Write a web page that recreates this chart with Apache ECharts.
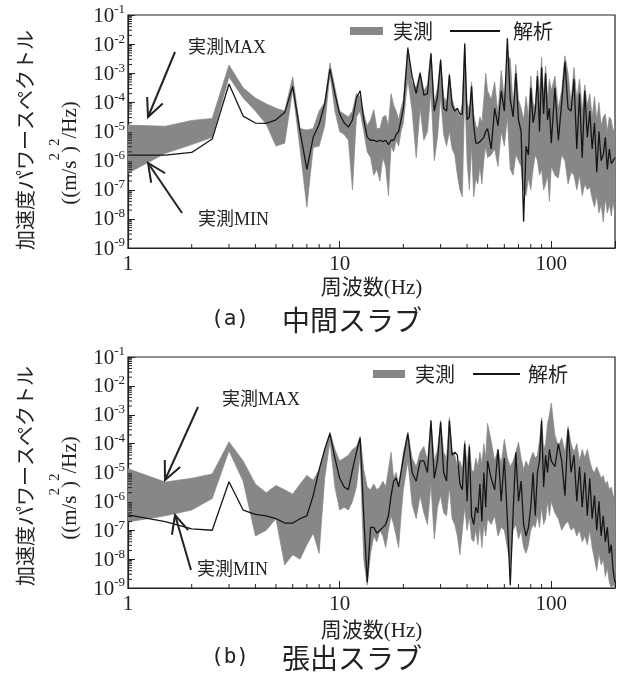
<!DOCTYPE html>
<html><head><meta charset="utf-8">
<script src="https://cdn.jsdelivr.net/npm/echarts@6/dist/echarts.min.js"></script>
<style>html,body{margin:0;padding:0;background:#fff}#c{width:624px;height:675px}</style>
</head><body><div id="c"></div>
<script>
// Frequencies (Hz), shared by both panels
const freqs = [
  1, 1.5, 2, 2.5, 3, 3.5, 4, 4.5, 5, 5.5, 6, 6.5, 7, 7.5, 8, 8.5, 9, 9.5, 10,
  10.5, 11, 11.5, 12, 12.5, 13, 13.5, 14, 14.5, 15, 15.5, 16, 16.5, 17, 17.5, 18, 18.5, 19, 19.5, 20,
  21, 22, 23, 24, 25, 26, 27, 28, 29, 30, 31, 32, 33, 34, 35, 36, 37, 38, 39, 40, 41, 42, 43, 44, 45, 46, 47, 48, 49, 50,
  52, 54, 56, 58, 60, 62, 64, 66, 68, 70, 72, 74, 76, 78, 80, 82, 84, 86, 88, 90, 92, 94, 96, 98, 100,
  104, 108, 112, 116, 120, 124, 128, 132, 136, 140, 144, 148, 152, 156, 160, 164, 168, 172, 176, 180, 184, 188, 192, 196, 200
];

// Values are read as log10 of PSD ((m/s^2)^2/Hz)
// (a) 中間スラブ : measured MAX / MIN, analysis
const measMaxExpA = [
  -4.78, -4.82, -4.62, -4.55, -2.72, -3.5, -3.85, -4.05, -4.2, -4.3, -3.13, -4.9, -4.95, -4.9, -4.3, -4.0, -2.65, -3.5, -4.3,
  -4.4, -4.5, -4.3, -3.7, -3.8, -4.4, -4.8, -4.6, -4.25, -4.9, -4.9, -4.5, -4.45, -4.8, -3.7, -4.1, -4.3, -4.6, -4.2, -3.9,
  -2.1, -3.3, -3.5, -2.95, -3.6, -3.4, -2.3, -4.0, -3.5, -2.5,
  -3.8, -4.0, -3.0, -3.9, -4.2, -4.3, -4.5, -4.0, -1.95, -4.0,
  -4.3, -3.3, -4.4, -4.8, -4.9, -4.5, -4.7, -3.9, -3.0, -3.6,
  -3.9, -3.3, -4.4, -2.9, -3.9, -2.4, -2.5, -4.2, -2.7, -3.9, -4.2, -4.6, -3.8, -4.5, -3.1, -4.0, -4.2, -2.9, -3.7, -2.45, -3.8, -2.75, -3.9, -3.2, -3.6,
  -3.1, -4.2, -3.6, -2.4, -3.0, -4.0, -2.8, -3.9, -3.2, -4.3, -3.4, -4.1, -3.7, -4.5, -3.8, -4.6, -4.0, -4.8, -4.5, -4.4, -5.0, -4.5, -4.6, -5.0, -4.8
];
const measMinExpA = [
  -6.43, -5.75, -5.45, -5.2, -3.13, -3.85, -4.3, -4.75, -5.5, -5.4, -3.57, -5.6, -7.6, -5.55, -5.5, -4.8, -3.0, -4.3, -5.0,
  -5.1, -5.3, -7.0, -4.5, -4.3, -5.0, -5.7, -5.9, -6.5, -6.3, -6.7, -5.9, -6.2, -7.2, -5.5, -5.7, -5.3, -5.5, -5.0, -4.7,
  -3.2, -4.3, -5.9, -4.2, -5.3, -5.0, -3.6, -6.0, -5.2, -3.8,
  -5.1, -5.5, -5.0, -5.6, -5.8, -6.5, -7.0, -7.24, -3.5, -6.0,
  -7.0, -5.5, -7.24, -6.6, -6.8, -6.2, -6.8, -6.0, -5.5, -5.9,
  -5.8, -5.6, -6.2, -5.0, -5.5, -4.5, -6.3, -6.5, -5.8, -6.0, -6.2, -7.0, -7.2, -6.6, -7.0, -6.3, -5.8, -6.0, -6.5, -6.3, -7.0, -6.8, -6.5, -7.4, -6.2,
  -6.5, -6.6, -5.8, -6.0, -6.8, -6.4, -6.5, -7.0, -6.5, -7.2, -6.8, -7.0, -6.9, -7.3, -7.6, -7.2, -7.8, -7.5, -8.1, -7.3, -7.8, -7.5, -7.9, -7.4, -7.9
];
const analysisExpA = [
  -5.81, -5.81, -5.72, -5.26, -3.37, -4.47, -4.71, -4.72, -4.6, -4.35, -3.45, -5.0, -6.3, -5.2, -4.75, -4.05, -2.86, -3.7, -4.4,
  -4.7, -4.85, -4.6, -3.85, -3.6, -4.6, -5.2, -5.3, -5.3, -5.35, -5.3, -5.35, -5.3, -5.45, -5.3, -5.3, -5.1, -5.0, -4.6, -4.2,
  -2.15, -3.1, -3.7, -3.0, -3.75, -3.7, -2.32, -4.3, -3.8, -2.55,
  -4.2, -4.3, -3.06, -4.1, -4.3, -4.2, -4.4, -4.4, -2.0, -4.6,
  -4.5, -3.45, -4.8, -5.4, -5.4, -5.35, -5.4, -5.2, -5.0, -4.9,
  -5.6, -4.2, -4.8, -3.6, -4.3, -1.8, -3.9, -4.5, -3.0, -4.6, -5.0, -8.1, -5.5, -5.8, -3.5, -4.7, -4.3, -3.1, -5.0, -2.8, -4.4, -3.0, -4.6, -4.2, -5.4,
  -3.5, -5.3, -4.0, -2.6, -4.2, -4.3, -3.2, -5.6, -3.7, -5.9, -3.6, -5.2, -4.3, -5.6, -4.7, -6.4, -5.0, -6.0, -5.8, -5.2, -6.3, -5.6, -6.1, -6.0, -5.9
];

// (b) 張出スラブ
const measMaxExpB = [
  -4.87, -5.33, -5.2, -5.05, -3.94, -4.6, -5.4, -5.7, -5.45, -5.6, -5.75, -5.4, -5.1, -5.27, -4.9, -4.2, -3.6, -4.2, -4.6,
  -4.5, -4.4, -4.2, -4.1, -3.75, -4.9, -5.5, -5.6, -5.4, -5.6, -5.5, -5.3, -5.5, -4.9, -4.3, -5.2, -5.0, -5.4, -4.9, -4.3,
  -3.6, -4.5, -4.8, -4.3, -4.1, -4.6, -3.2, -4.6, -4.2, -3.2,
  -4.3, -4.5, -3.1, -4.3, -4.4, -4.8, -4.6, -4.9, -3.9, -4.7,
  -4.0, -4.9, -5.0, -4.5, -4.8, -4.3, -4.7, -4.0, -4.5, -3.3,
  -3.9, -4.6, -4.2, -4.7, -3.85, -4.5, -4.8, -4.6, -4.3, -3.95, -4.5, -4.9, -4.6, -4.8, -4.5, -4.3, -4.5, -4.4, -3.9, -3.1, -4.2, -4.0, -3.3, -3.0, -2.6,
  -3.7, -4.1, -3.8, -4.3, -3.4, -4.0, -4.3, -4.0, -4.6, -4.2, -4.5, -4.2, -4.6, -4.9, -5.0, -4.8, -5.0, -5.2, -5.1, -5.4, -5.3, -5.6, -5.5, -5.8, -6.0
];
const measMinExpB = [
  -6.71, -6.5, -6.3, -5.9, -4.25, -5.3, -7.2, -7.0, -6.6, -8.2, -7.85, -8.0, -7.5, -7.1, -7.8, -5.2, -3.9, -5.5, -6.3,
  -6.2, -6.3, -6.0, -5.5, -4.4, -8.0, -8.9, -7.8, -7.2, -7.4, -7.0, -7.2, -7.6, -7.0, -6.5, -6.8, -7.2, -7.6, -6.5, -5.6,
  -4.6, -6.1, -6.6, -5.8, -6.4, -6.8, -5.4, -7.3, -6.2, -5.8,
  -6.4, -6.5, -5.5, -6.6, -6.8, -7.2, -7.85, -7.0, -6.2, -7.0,
  -6.5, -7.3, -7.4, -7.0, -7.5, -6.8, -7.6, -6.8, -7.2, -6.6,
  -6.8, -6.5, -7.2, -6.9, -7.0, -7.6, -8.2, -7.0, -6.8, -7.3, -7.0, -7.6, -7.8, -7.5, -7.0, -6.8, -6.9, -6.5, -6.9, -6.2, -6.8, -6.6, -6.0, -6.5, -6.0,
  -6.4, -6.6, -7.0, -6.8, -6.7, -7.0, -6.9, -7.2, -7.0, -7.4, -7.2, -7.5, -7.0, -7.6, -8.0, -8.4, -7.8, -8.2, -8.0, -8.6, -8.3, -8.8, -9.0, -8.9, -9.0
];
const analysisExpB = [
  -6.47, -6.7, -6.95, -7.0, -5.32, -6.3, -6.45, -6.5, -6.6, -6.75, -6.75, -6.6, -6.5, -5.8, -4.9, -4.2, -3.65, -4.5, -5.2,
  -5.5, -5.6, -4.9, -4.3, -3.8, -6.5, -8.8, -6.9, -6.9, -7.1, -7.0, -6.9, -6.8, -6.5, -5.8, -5.3, -5.2, -5.5, -5.0, -4.5,
  -3.65, -5.0, -5.3, -4.6, -4.6, -5.0, -3.2, -5.2, -4.6, -3.25,
  -5.0, -5.3, -3.2, -4.4, -4.3, -4.4, -5.4, -5.6, -4.0, -6.0,
  -4.1, -6.5, -6.8, -6.2, -6.4, -5.4, -6.7, -5.0, -6.2, -4.6,
  -5.2, -5.6, -4.2, -6.0, -4.5, -6.6, -8.9, -6.4, -4.3, -6.0, -5.3, -6.8, -7.2, -6.9, -6.2, -5.0, -6.5, -5.0, -4.6, -3.2, -5.5, -4.4, -5.0, -4.2, -4.6,
  -4.8, -4.0, -4.6, -5.8, -3.5, -5.0, -4.4, -6.0, -4.8, -6.2, -5.0, -6.5, -5.2, -6.6, -5.8, -7.0, -6.0, -7.2, -6.5, -7.4, -6.9, -7.8, -7.5, -8.4, -8.8
];

// Axis tick labels / ticks
const xTickLabels = [1, 10, 100];
const xMinorTicks = [2, 3, 4, 5, 6, 7, 8, 9, 20, 30, 40, 50, 60, 70, 80, 90];
const yDecades = [-9, -8, -7, -6, -5, -4, -3, -2, -1];
const yMinorTicks = [];
for (const d of yDecades.slice(0, -1)) for (let k = 2; k <= 9; k++) yMinorTicks.push(k * Math.pow(10, d));

const SERIF = "'Liberation Serif', 'Noto Sans CJK JP', serif";
const JP = "'Noto Sans CJK JP', sans-serif";
const INK = '#222';
const BAND = '#878787';
const LINE = '#161616';

const pow10 = a => a.map(e => Math.pow(10, e));

function bandSeries(idx, maxE, minE) {
  const hi = pow10(maxE), lo = pow10(minE);
  return {
    type: 'custom', name: '実測', xAxisIndex: idx, yAxisIndex: idx,
    data: freqs.map((f, i) => [f, lo[i], hi[i]]),
    encode: { x: 0, y: [1, 2] },
    itemStyle: { color: BAND },
    clip: true, silent: true, z: 2,
    renderItem(params, api) {
      if (params.dataIndex !== 0) return null;
      const pts = [];
      for (let i = 0; i < freqs.length; i++) pts.push(api.coord([freqs[i], hi[i]]));
      for (let i = freqs.length - 1; i >= 0; i--) pts.push(api.coord([freqs[i], lo[i]]));
      return { type: 'polygon', shape: { points: pts }, style: { fill: BAND, stroke: BAND, lineWidth: 0.7 } };
    }
  };
}
function analysisSeries(idx, anaE) {
  const v = pow10(anaE);
  return {
    type: 'line', name: '解析', xAxisIndex: idx, yAxisIndex: idx,
    data: freqs.map((f, i) => [f, v[i]]),
    symbol: 'none', showSymbol: false, clip: true, silent: true, z: 3,
    lineStyle: { color: LINE, width: 1.3 }, itemStyle: { color: LINE }
  };
}
function minorTickSeries(idx) {
  return [{
    type: 'custom', xAxisIndex: idx, yAxisIndex: idx, silent: true, clip: false, z: 5,
    data: xMinorTicks.map(v => [v, 1e-9]),
    renderItem(p, api) {
      const c = api.coord([api.value(0), 1e-9]);
      return { type: 'line', shape: { x1: c[0], y1: c[1], x2: c[0], y2: c[1] - 4 }, style: { stroke: INK, lineWidth: 1 } };
    }
  }, {
    type: 'custom', xAxisIndex: idx, yAxisIndex: idx, silent: true, clip: false, z: 5,
    data: yMinorTicks.map(v => [1, v]),
    renderItem(p, api) {
      const c = api.coord([1, api.value(1)]);
      return { type: 'line', shape: { x1: c[0], y1: c[1], x2: c[0] + 4, y2: c[1] }, style: { stroke: INK, lineWidth: 1 } };
    }
  }];
}
function xAxis(idx, nameGap) {
  return {
    type: 'log', logBase: 10, gridIndex: idx, min: 1, max: 200,
    axisLine: { show: true, lineStyle: { color: INK, width: 1.2 } },
    axisTick: { show: true, inside: true, length: 7, lineStyle: { color: INK } },
    splitLine: { show: false },
    axisLabel: {
      margin: 6, fontFamily: SERIF, fontSize: 21, color: INK,
      formatter: v => { const r = Math.round(v); return (Math.abs(v - r) < 1e-6 && xTickLabels.includes(r)) ? String(r) : ''; }
    },
    name: '周波数(Hz)', nameLocation: 'middle', nameGap,
    nameTextStyle: { fontFamily: SERIF, fontSize: 21, color: INK }
  };
}
function yAxis(idx) {
  return {
    type: 'log', logBase: 10, gridIndex: idx, min: 1e-9, max: 1e-1,
    axisLine: { show: true, lineStyle: { color: INK, width: 1.2 } },
    axisTick: { show: true, inside: true, length: 7, lineStyle: { color: INK } },
    splitLine: { show: false },
    axisLabel: {
      margin: 3,
      formatter: v => '{b|10}{s|' + Math.round(Math.log10(v)) + '}',
      rich: {
        b: { fontFamily: SERIF, fontSize: 21, color: INK, verticalAlign: 'bottom', lineHeight: 23 },
        s: { fontFamily: SERIF, fontSize: 13, color: INK, verticalAlign: 'top', lineHeight: 13 }
      }
    }
  };
}
function legendItem(name, icon, left, top, w, h, gap) {
  return {
    data: [{ name, icon }], left, top, padding: 0, itemWidth: w, itemHeight: h, selectedMode: false,
    textStyle: { fontFamily: JP, fontSize: 20, color: INK, padding: [0, 0, 0, gap] }
  };
}
function arrow(tail, tip) {
  const dx = tail[0] - tip[0], dy = tail[1] - tip[1], L = Math.hypot(dx, dy);
  const ux = dx / L, uy = dy / L, a = 25 * Math.PI / 180, len = 20;
  const ca = Math.cos(a), sa = Math.sin(a);
  const r1 = [tip[0] + len * (ux * ca - uy * sa), tip[1] + len * (ux * sa + uy * ca)];
  const r2 = [tip[0] + len * (ux * ca + uy * sa), tip[1] + len * (-ux * sa + uy * ca)];
  const st = { stroke: INK, lineWidth: 2, fill: null };
  return [
    { type: 'polyline', silent: true, z: 10, shape: { points: [tail, tip] }, style: st },
    { type: 'polyline', silent: true, z: 10, shape: { points: [r1, tip, r2] }, style: st }
  ];
}
function txt(text, x, y, font, size) {
  return {
    type: 'text', x, y, silent: true, z: 10,
    style: { text, fontFamily: font, fontSize: size, fill: INK, align: 'left', verticalAlign: 'middle' }
  };
}
// measure text width for manual superscript layout
const mctx = document.createElement('canvas').getContext('2d');
function textW(s, size, fam) { mctx.font = size + 'px ' + fam; return mctx.measureText(s).width; }

function unitTitle(cx, cy) {
  const parts = [['((m/s', 21, 0], ['2', 15, -15], [')', 21, 0], ['2', 15, -15], ['/Hz)', 21, 0]];
  const widths = parts.map(p => textW(p[0], p[1], SERIF));
  const W = widths.reduce((a, b) => a + b, 0);
  let x = -W / 2;
  const children = parts.map((p, i) => {
    const el = { type: 'text', x, y: p[2], silent: true,
      style: { text: p[0], fontFamily: SERIF, fontSize: p[1], fill: INK, align: 'left', verticalAlign: 'middle' } };
    x += widths[i];
    return el;
  });
  return { type: 'group', x: cx, y: cy, rotation: Math.PI / 2, silent: true, children };
}
function yTitle(cx1, cy1, cx2, cy2) {
  return [
    { type: 'text', x: cx1, y: cy1, rotation: Math.PI / 2, silent: true,
      style: { text: '加速度パワースペクトル', fontFamily: JP, fontSize: 20, fill: INK, align: 'center', verticalAlign: 'middle' } },
    unitTitle(cx2, cy2)
  ];
}

const chart = echarts.init(document.getElementById('c'), null, { renderer: 'canvas' });
chart.setOption({
  animation: false,
  backgroundColor: '#fff',
  grid: [
    { left: 128, top: 15, width: 487, height: 233, show: true, borderColor: INK, borderWidth: 1.2, backgroundColor: 'transparent' },
    { left: 128, top: 357, width: 487, height: 231, show: true, borderColor: INK, borderWidth: 1.2, backgroundColor: 'transparent' }
  ],
  xAxis: [xAxis(0, 30), xAxis(1, 33)],
  yAxis: [yAxis(0), yAxis(1)],
  legend: [
    legendItem('実測', 'rect', 350, 21, 33, 8, 5),
    legendItem('解析', 'rect', 450, 21, 50, 2, 8),
    legendItem('実測', 'rect', 373, 364, 32, 8, 5),
    legendItem('解析', 'rect', 473, 364, 47, 2, 3)
  ],
  series: [
    bandSeries(0, measMaxExpA, measMinExpA),
    analysisSeries(0, analysisExpA),
    bandSeries(1, measMaxExpB, measMinExpB),
    analysisSeries(1, analysisExpB),
    ...minorTickSeries(0),
    ...minorTickSeries(1)
  ],
  graphic: [
    ...yTitle(25, 140, 70, 153),
    ...yTitle(25, 476, 70, 488),
    txt('実測MAX', 188, 48, SERIF, 18),
    txt('実測MIN', 198, 220, SERIF, 18),
    ...arrow([175, 52], [148, 117]),
    ...arrow([182, 213], [148, 163]),
    txt('実測MAX', 222, 400, SERIF, 18),
    txt('実測MIN', 197, 570, SERIF, 18),
    ...arrow([198, 407], [165, 480]),
    ...arrow([191, 570], [175, 515]),
    txt('(a)', 211, 320, "'DejaVu Sans Mono', monospace", 21),
    txt('中間スラブ', 282, 320, JP, 28),
    txt('(b)', 211, 658, "'DejaVu Sans Mono', monospace", 21),
    txt('張出スラブ', 282, 658, JP, 28)
  ]
});
</script>
</body></html>
